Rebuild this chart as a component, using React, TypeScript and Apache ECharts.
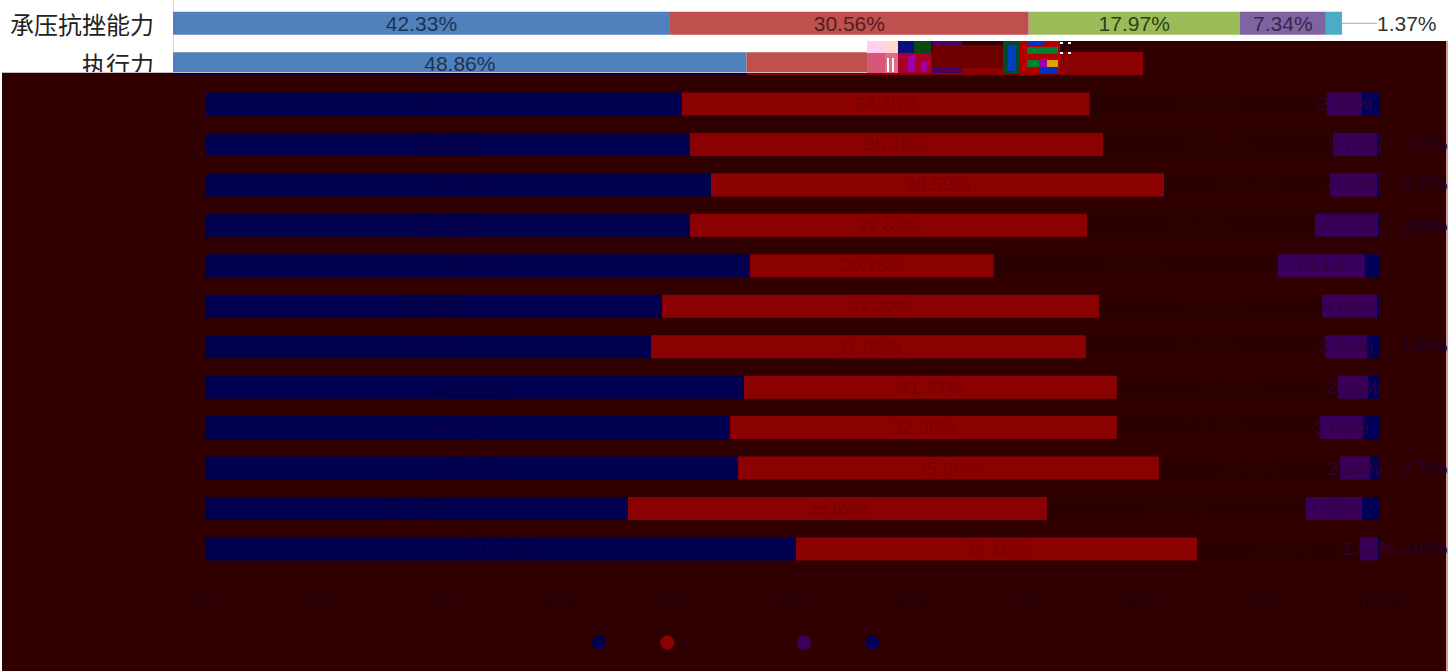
import React, { useEffect, useRef } from "react";
import * as echarts from "echarts";

// Upper, intact part of the picture
const topCategories = ["承压抗挫能力", "执行力"];
const topBlue = [42.33, 48.86];
const topRed = [30.56, 33.76];
const topGreen = [17.97, null];
const topPurple = [7.34, null];
const topTeal = [1.37, null];

// Lower, colour-damaged part: twelve rows, values estimated from segment ends
const darkBlue = [40.63, 41.31, 43.1, 41.31, 46.42, 38.93, 37.99, 45.91, 44.72, 45.4, 36.03, 50.34];
const darkRed = [34.75, 35.18, 38.59, 33.82, 20.78, 37.22, 37.05, 31.77, 32.96, 35.86, 35.69, 34.16];
const darkGreen = [20.19, 19.59, 14.14, 19.42, 24.19, 19.0, 20.36, 18.82, 17.29, 15.42, 22.06, 13.88];
const darkPurple = [2.98, 3.75, 4.0, 5.37, 7.41, 4.68, 3.58, 2.56, 3.66, 2.56, 4.77, 1.53];
const darkNavy = [1.45, 0.17, 0.17, 0.08, 1.2, 0.17, 1.02, 0.94, 1.37, 0.76, 1.45, 0.09];
const navyOutsideLabelRows = [1, 2, 3, 6, 9, 11];
// The tail of the 执行力 row, visible inside the damaged block
const tailOffset = 59.03;
const tailRed = 20.87;

const legendNames = ["5", "4", "3", "2", "1"];
const xTickValues = [0, 10, 20, 30, 40, 50, 60, 70, 80, 90, 100];

const FONT = '"Liberation Sans", "Noto Sans CJK SC", sans-serif';
const pct = (p: any) => `${Number(p.value).toFixed(2)}%`;

function topSeries(name: string, data: any[], color: string, labelColor: string) {
  return {
    type: "bar",
    name,
    stack: "top",
    xAxisIndex: 0,
    yAxisIndex: 0,
    barWidth: 23,
    z: 1,
    data,
    itemStyle: { color },
    label: { show: true, position: "inside", color: labelColor, fontSize: 21, fontFamily: FONT, formatter: pct },
  };
}

function darkSeries(name: string, data: any[], color: string, labelColor: string) {
  return {
    type: "bar",
    name,
    stack: "dark",
    xAxisIndex: 1,
    yAxisIndex: 1,
    barWidth: 23,
    z: 3,
    data,
    itemStyle: { color },
    label: { show: true, position: "inside", color: labelColor, fontSize: 19, fontFamily: FONT, formatter: pct },
  };
}

const r = (x: number, y: number, width: number, height: number, fill: string, z = 5) => ({
  type: "rect",
  z,
  silent: true,
  shape: { x, y, width, height },
  style: { fill },
});

const damageBlocks = [
  r(173, 0, 1, 3, "#dcdcd0", 1),
  r(2, 73, 1444, 598, "#300000", 2),
  r(898, 41, 548, 32, "#300000", 2),
  r(2, 72, 896, 1, "#d0bcc4", 2),
  r(1446, 41, 2, 630, "#d89a98", 2),
  r(173, 73, 574, 2, "#000050", 2),
  r(747, 73, 151, 2, "#8b0000", 2),
  r(867, 41, 18, 12, "#ffd0f0"),
  r(885, 41, 13, 12, "#ffd8c8"),
  r(867, 53, 18, 20, "#d4587a"),
  r(885, 53, 13, 20, "#e06a88"),
  r(887, 58, 2, 14, "#ffffff"),
  r(892, 58, 2, 14, "#ffffff"),
  r(898, 41, 16, 12, "#0a1080"),
  r(914, 41, 17, 12, "#0a4a10"),
  r(898, 53, 33, 20, "#a8002a"),
  r(908, 56, 7, 16, "#a000a8"),
  r(922, 62, 5, 10, "#a000a8"),
  r(932, 41, 30, 4, "#4a0060"),
  r(932, 68, 30, 5, "#4a0060"),
  r(932, 45, 71, 23, "#6e0000"),
  r(1003, 41, 17, 32, "#004a2a"),
  r(1008, 45, 8, 26, "#0040c0"),
  r(1020, 41, 40, 32, "#b00000"),
  r(1027, 41, 16, 4, "#0030c0"),
  r(1027, 47, 31, 7, "#008030"),
  r(1027, 60, 12, 7, "#008030"),
  r(1039, 59, 8, 8, "#a000a8"),
  r(1047, 60, 11, 7, "#e0a000"),
  r(1040, 67, 18, 6, "#0030c0"),
  r(1060, 42, 3, 2, "#ffffff"),
  r(1068, 42, 3, 2, "#ffffff"),
  r(1060, 52, 3, 2, "#ffffff"),
  r(1068, 52, 3, 2, "#ffffff"),
];

export default function App() {
  const ref = useRef<HTMLDivElement>(null);

  useEffect(() => {
    document.body.style.margin = "0";
    document.body.style.overflow = "hidden";
    const chart = echarts.init(ref.current!, null, { renderer: "svg" });

    const offsetSeries = {
      type: "bar",
      name: "offset",
      stack: "dark",
      xAxisIndex: 1,
      yAxisIndex: 1,
      barWidth: 23,
      z: 3,
      silent: true,
      data: [tailOffset, ...darkBlue.map(() => null)],
      itemStyle: { color: "transparent" },
    };

    const navyData = darkNavy.map((v, i) =>
      navyOutsideLabelRows.includes(i)
        ? { value: v, label: { show: true, position: "right", distance: 23, fontSize: 16 } }
        : v
    );

    const option: any = {
      animation: false,
      backgroundColor: "#ffffff",
      textStyle: { fontFamily: FONT },
      grid: [
        { left: 173, right: 107, top: 3, height: 81 },
        { left: 205, right: 75, top: 43.3, height: 525.9 },
      ],
      xAxis: [
        { gridIndex: 0, type: "value", min: 0, max: 100, show: false },
        {
          gridIndex: 1,
          type: "value",
          min: xTickValues[0],
          max: xTickValues[xTickValues.length - 1],
          interval: xTickValues[1] - xTickValues[0],
          z: 3,
          splitLine: { show: false },
          axisLine: { show: false },
          axisTick: { show: false },
          axisLabel: { color: "#22000e", fontSize: 19, margin: 23, formatter: "{value}%", fontFamily: FONT },
        },
      ],
      yAxis: [
        {
          gridIndex: 0,
          type: "category",
          inverse: true,
          data: topCategories,
          axisTick: { show: false },
          axisLine: { show: true, lineStyle: { color: "#dcdcd0" } },
          axisLabel: { color: "#222222", fontSize: 24, margin: 19, fontFamily: '"Noto Sans CJK SC", sans-serif' },
        },
        {
          gridIndex: 1,
          type: "category",
          inverse: true,
          show: false,
          data: ["", ...darkBlue.map((_, i) => String(i + 1))],
        },
      ],
      legend: {
        left: 587,
        top: 630,
        icon: "circle",
        itemWidth: 14,
        itemHeight: 14,
        itemGap: 41,
        selectedMode: false,
        z: 3,
        data: legendNames,
        textStyle: { color: "#22000e", fontSize: 15, fontFamily: FONT },
      },
      series: [
        offsetSeries,
        darkSeries(legendNames[0], [null, ...darkBlue], "#000050", "#0e0046"),
        darkSeries(
          legendNames[1],
          [{ value: tailRed, label: { show: false } }, ...darkRed],
          "#8b0000",
          "#7a0000"
        ),
        darkSeries(legendNames[2], [null, ...darkGreen], "#2a0000", "#2e0002"),
        darkSeries(legendNames[3], [null, ...darkPurple], "#38005c", "#36003c"),
        {
          ...darkSeries(legendNames[4], [null, ...navyData], "#000058", "#1c0030"),
          label: { show: false, color: "#1c0030", fontSize: 19, fontFamily: FONT, formatter: pct },
        },
        topSeries(legendNames[0], topBlue, "#4f81bd", "#1f3350"),
        topSeries(legendNames[1], [topRed[0], { value: topRed[1], label: { show: false } }], "#c0504d", "#4d2020"),
        topSeries(legendNames[2], topGreen, "#9bbb59", "#2f3d1c"),
        topSeries(legendNames[3], topPurple, "#8064a2", "#33284a"),
        {
          ...topSeries(legendNames[4], topTeal, "#4bacc6", "#333333"),
          label: { show: true, position: "right", color: "#333333", fontSize: 21, fontFamily: FONT, formatter: pct },
          labelLayout: { dx: 30 },
          labelLine: { show: true, lineStyle: { color: "#a6a6a6", width: 1 } },
        },
      ],
      graphic: { elements: damageBlocks },
    };

    chart.setOption(option);
    return () => chart.dispose();
  }, []);

  return <div ref={ref} style={{ width: 1454, height: 671 }} />;
}
